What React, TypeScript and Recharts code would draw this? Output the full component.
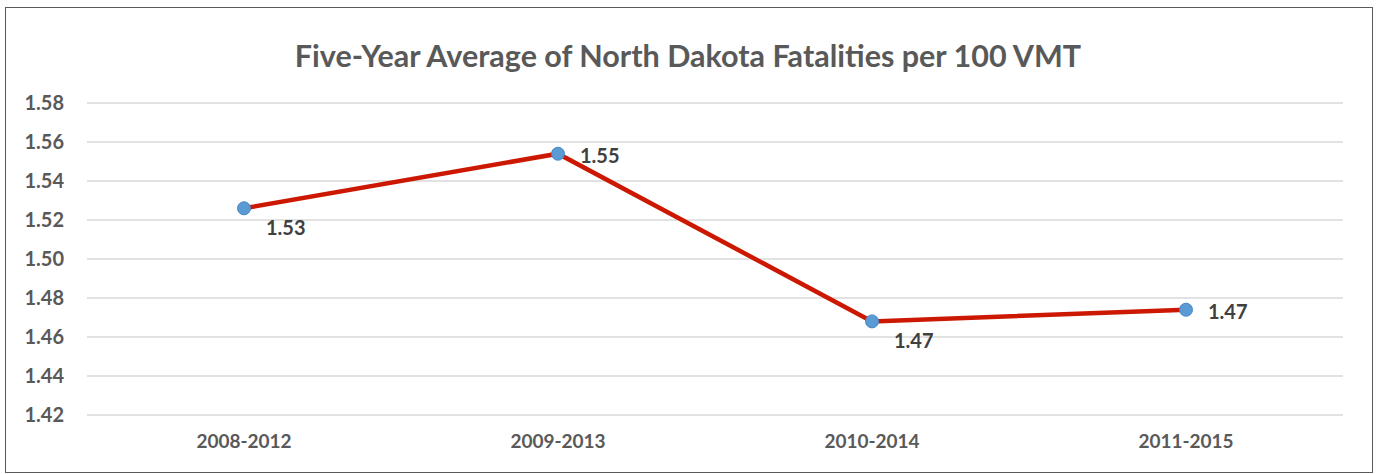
import React from 'react';
import { LineChart, Line, XAxis, YAxis, CartesianGrid, LabelList } from 'recharts';

const PERIODS = ['2008-2012', '2009-2013', '2010-2014', '2011-2015'];
const FATALITY_RATES = [1.526, 1.554, 1.468, 1.474];
const Y_TICKS = [1.42, 1.44, 1.46, 1.48, 1.5, 1.52, 1.54, 1.56, 1.58];
// where Excel put each data label relative to its point
const LABEL_SIDES = ['below', 'right', 'below', 'right'];

const data = PERIODS.map((period, i) => ({ period, rate: FATALITY_RATES[i] }));

const FONT = 'Lato, "Open Sans", "DejaVu Sans", sans-serif';

const PointLabel = (props: any) => {
  const { x, y, value, index } = props;
  const below = LABEL_SIDES[index] === 'below';
  return (
    <text
      x={x + 22}
      y={y + (below ? 19 : 1)}
      dominantBaseline="central"
      fill="#404040"
      fontFamily={FONT}
      fontWeight={700}
      fontSize={20}
    >
      {Number(value).toFixed(2)}
    </text>
  );
};

export default function App() {
  return (
    <div style={{ position: 'absolute', left: 0, top: 0, width: 1376, height: 474, background: '#fff' }}>
      <div
        style={{
          position: 'absolute',
          left: 5,
          top: 7,
          width: 1366,
          height: 464,
          border: '1.5px solid #595959',
        }}
      />
      <div
        style={{
          position: 'absolute',
          left: 0,
          top: 35,
          width: 1376,
          textAlign: 'center',
          fontFamily: FONT,
          fontWeight: 700,
          fontSize: 30.5,
          color: '#595959',
          lineHeight: '40px',
        }}
      >
        Five-Year Average of North Dakota Fatalities per 100 VMT
      </div>
      <div style={{ position: 'absolute', left: 0, top: 0 }}>
        <LineChart width={1376} height={474} data={data} margin={{ top: 103, right: 33, bottom: 29, left: 0 }}>
          <CartesianGrid vertical={false} stroke="#d9d9d9" strokeWidth={1.5} />
          <XAxis
            dataKey="period"
            height={30}
            axisLine={false}
            tickLine={false}
            tickSize={0}
            tickMargin={20}
            padding={{ left: 157, right: 157 }}
            tick={{ fill: '#595959', fontFamily: FONT, fontWeight: 700, fontSize: 19 }}
          />
          <YAxis
            width={87}
            domain={[1.42, 1.58]}
            ticks={Y_TICKS}
            interval={0}
            axisLine={false}
            tickLine={false}
            tickSize={0}
            tickMargin={23}
            tickFormatter={(v: number) => v.toFixed(2)}
            tick={{ fill: '#595959', fontFamily: FONT, fontWeight: 700, fontSize: 20 }}
          />
          <Line
            type="linear"
            dataKey="rate"
            stroke="#cc1800"
            strokeWidth={4.5}
            dot={{ r: 6.5, fill: '#5b9bd5', stroke: '#4a86c0', strokeWidth: 1 }}
            isAnimationActive={false}
          >
            <LabelList dataKey="rate" content={<PointLabel />} />
          </Line>
        </LineChart>
      </div>
    </div>
  );
}
